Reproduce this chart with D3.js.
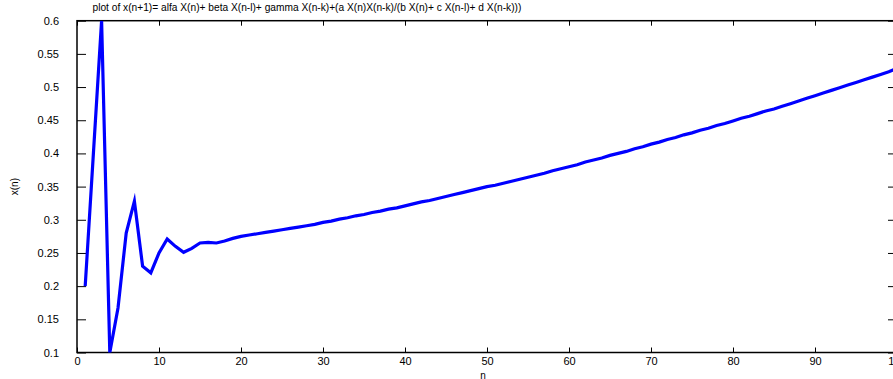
<!DOCTYPE html>
<html><head><meta charset="utf-8">
<script src="https://cdn.jsdelivr.net/npm/d3@7"></script>
<style>
html,body{margin:0;padding:0;background:#fff;overflow:hidden}
svg{display:block;font-family:"Liberation Sans",Arial,sans-serif}
</style></head>
<body>
<script>
const title = "plot of x(n+1)= alfa X(n)+ beta X(n-l)+ gamma X(n-k)+(a X(n)X(n-k)/(b X(n)+ c X(n-l)+ d X(n-k)))";
const xLabel = "n";
const yLabel = "x(n)";
const xTicks = [0,10,20,30,40,50,60,70,80,90,100];
const yTicks = [0.1,0.15,0.2,0.25,0.3,0.35,0.4,0.45,0.5,0.55,0.6];
const nValues = d3.range(1,101);
const xValues = [
 0.200,0.400,0.600,0.100,0.167,0.280,0.328,0.230,0.220,0.250,
 0.271,0.260,0.251,0.257,0.265,0.266,0.265,0.268,0.272,0.275,
 0.277,0.279,0.281,0.283,0.285,0.287,0.289,0.291,0.293,0.296,
 0.298,0.301,0.303,0.306,0.308,0.311,0.313,0.316,0.318,0.321,
 0.324,0.327,0.329,0.332,0.335,0.338,0.341,0.344,0.347,0.350,
 0.352,0.355,0.358,0.361,0.364,0.367,0.370,0.374,0.377,0.380,
 0.383,0.387,0.390,0.393,0.397,0.400,0.403,0.407,0.410,0.414,
 0.417,0.421,0.424,0.428,0.431,0.435,0.438,0.442,0.445,0.449,
 0.453,0.456,0.460,0.464,0.467,0.471,0.475,0.479,0.483,0.487,
 0.491,0.495,0.499,0.503,0.507,0.511,0.515,0.519,0.523,0.528];

const W = 893, H = 379;
const L = 77, R = 897, T = 20.7, B = 352.5;
const svg = d3.select("body").append("svg").attr("width",W).attr("height",H);
const x = d3.scaleLinear().domain([0,100]).range([L,R]);
const y = d3.scaleLinear().domain([0.1,0.6]).range([B,T]);
const fmt = d => String(+d.toFixed(2));

svg.append("defs").append("clipPath").attr("id","clip")
  .append("rect").attr("x",L).attr("y",T).attr("width",R-L).attr("height",B-T);

// ticks (inward, mirrored)
const tickStyle = g => { g.select(".domain").remove(); g.selectAll("line").attr("stroke","#000").attr("stroke-width",1); };
svg.append("g").attr("transform",`translate(0,${B})`)
  .call(d3.axisBottom(x).tickValues(xTicks).tickSize(-5).tickPadding(5).tickFormat(d3.format("d")))
  .call(tickStyle)
  .call(g=>g.selectAll("text").attr("font-size",11).attr("fill","#000"));
svg.append("g").attr("transform",`translate(0,${T})`)
  .call(d3.axisTop(x).tickValues(xTicks).tickSize(-5).tickFormat(""))
  .call(tickStyle);
svg.append("g").attr("transform",`translate(${L},0)`)
  .call(d3.axisLeft(y).tickValues(yTicks).tickSize(-9).tickPadding(18).tickFormat(fmt))
  .call(tickStyle)
  .call(g=>g.selectAll("text").attr("font-size",11).attr("fill","#000"));
svg.append("g").attr("transform",`translate(${R},0)`)
  .call(d3.axisRight(y).tickValues(yTicks).tickSize(-9).tickFormat(""))
  .call(tickStyle);

// border
svg.append("rect").attr("x",L).attr("y",T).attr("width",R-L).attr("height",B-T)
  .attr("fill","none").attr("stroke","#000").attr("stroke-width",1.5);

// line
const data = nValues.map((n,i)=>({n, v:xValues[i]}));
svg.append("path").datum(data).attr("clip-path","url(#clip)")
  .attr("fill","none").attr("stroke","#0000ff").attr("stroke-width",3.2)
  .attr("stroke-linejoin","miter").attr("stroke-miterlimit",10)
  .attr("d", d3.line().x(d=>x(d.n)).y(d=>y(d.v)));

// labels
svg.append("text").attr("x",92.5).attr("y",11).attr("font-size",10.2).text(title);
svg.append("text").attr("x",483).attr("y",378.5).attr("text-anchor","middle").attr("font-size",10).text(xLabel);
svg.append("text").attr("transform",`translate(18,${(T+B)/2}) rotate(-90)`).attr("text-anchor","middle").attr("font-size",10).text(yLabel);
</script>
</body></html>
